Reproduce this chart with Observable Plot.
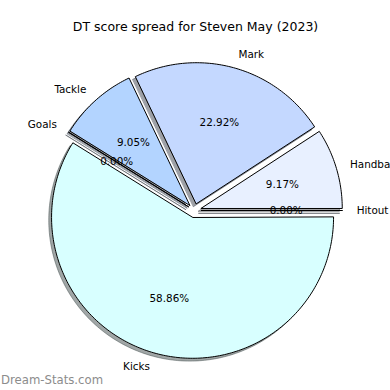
<!DOCTYPE html>
<html>
<head>
<meta charset="utf-8">
<script src="https://cdn.jsdelivr.net/npm/d3@7"></script>
<script src="https://cdn.jsdelivr.net/npm/@observablehq/plot@0.6"></script>
<style>
  html, body { margin: 0; padding: 0; background: #fff; }
  #chart svg { display: block; font-family: "DejaVu Sans", sans-serif; }
</style>
</head>
<body>
<div id="chart"></div>
<script>
// ---- data ----
const title = "DT score spread for Steven May (2023)";
const watermark = "Dream-Stats.com";
const labels = ["Hitout", "Handball", "Mark", "Tackle", "Goals", "Kicks"];
const values = [0, 9.17, 22.92, 9.05, 0, 58.86];
const colors = ["#dde8ff", "#e8f0ff", "#c4d8ff", "#b3d4ff", "#cfe6ff", "#d8ffff"];

// ---- layout constants (matplotlib-style pie) ----
const explode = 0.05, pctDistance = 0.6, labelDistance = 1.1;
const R = 141, CX = 194, CY = 210, W = 390, H = 390;

// build slice geometry in unit coordinates (counter-clockwise from east)
const total = d3.sum(values);
let start = 0;
const slices = labels.map((label, i) => {
  const a0 = start, a1 = start + 360 * values[i] / total;
  start = a1;
  const m = (a0 + a1) / 2 * Math.PI / 180;
  const ox = explode * Math.cos(m), oy = explode * Math.sin(m);
  const ring = [[ox, oy]];
  const n = Math.max(1, Math.ceil((a1 - a0) / 1));
  for (let k = 0; k <= n; k++) {
    const t = (a0 + (a1 - a0) * k / n) * Math.PI / 180;
    ring.push([ox + Math.cos(t), oy + Math.sin(t)]);
  }
  ring.push([ox, oy]);
  return {
    type: "Feature",
    properties: {label, color: colors[i], value: values[i],
      shadow: d3.rgb(colors[i]).r !== undefined ? (() => { const c = d3.rgb(colors[i]); return d3.rgb(c.r * 0.3, c.g * 0.3, c.b * 0.3).formatHex(); })() : "#444"},
    geometry: {type: "Polygon", coordinates: [ring]},
    lx: ox + labelDistance * Math.cos(m),
    ly: oy + labelDistance * Math.sin(m),
    px: ox + pctDistance * Math.cos(m),
    py: oy + pctDistance * Math.sin(m),
    pct: (100 * values[i] / total).toFixed(2) + "%"
  };
});

// projection domain: full 390x390 frame expressed in unit coordinates
const domain = {type: "MultiPoint", coordinates: [[-CX / R, CY / R], [(W - CX) / R, (CY - H) / R]]};

const plot = Plot.plot({
  width: W, height: H,
  margin: 0,
  projection: {type: "reflect-y", domain},
  color: {type: "identity"},
  style: {fontFamily: "DejaVu Sans, sans-serif", background: "#fff"},
  marks: [
    // shadows
    Plot.geo(slices, {fill: d => d.properties.shadow, stroke: d => d.properties.shadow,
      fillOpacity: 0.5, strokeOpacity: 0.5, strokeWidth: 1, dx: -2.8, dy: 2.8}),
    // wedges
    Plot.geo(slices, {fill: d => d.properties.color, stroke: "#000", strokeWidth: 1}),
    // percentage labels
    Plot.text(slices, {x: "px", y: "py", text: "pct", fontSize: 10.4, fill: "#000",
      textAnchor: "middle", lineAnchor: "middle"}),
    // category labels
    Plot.text(slices.filter(d => d.lx > 0), {x: "lx", y: "ly", text: d => d.properties.label,
      fontSize: 10.4, fill: "#000", textAnchor: "start", lineAnchor: "middle"}),
    Plot.text(slices.filter(d => d.lx <= 0), {x: "lx", y: "ly", text: d => d.properties.label,
      fontSize: 10.4, fill: "#000", textAnchor: "end", lineAnchor: "middle"}),
    // title
    Plot.text([title], {frameAnchor: "top", dy: 26.5, lineAnchor: "middle",
      fontSize: 12.5, fill: "#000"}),
    // watermark
    Plot.text([watermark], {frameAnchor: "bottom-left", dx: 0.5, dy: -10, lineAnchor: "middle",
      textAnchor: "start", fontSize: 11.7, fill: "#8c8c8c"})
  ]
});
document.getElementById("chart").appendChild(plot);
</script>
</body>
</html>
